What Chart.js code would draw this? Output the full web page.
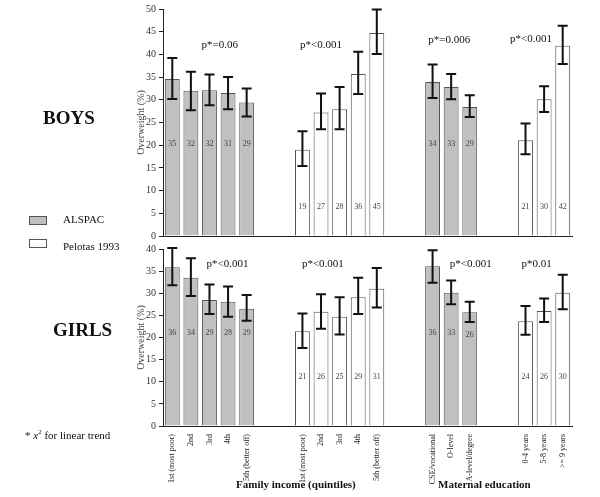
<!DOCTYPE html>
<html>
<head>
<meta charset="utf-8">
<script src="https://cdn.jsdelivr.net/npm/chart.js@4/dist/chart.umd.min.js"></script>
<style>
  body { margin: 0; width: 600px; height: 497px; background: #fff; position: relative; overflow: hidden; font-family: "Liberation Serif", serif; }
  canvas { position: absolute; left: 0; }
  .txt { position: absolute; white-space: nowrap; color: #111; }
  .box { position: absolute; width: 16px; height: 7px; border: 1px solid #555; }
</style>
</head>
<body>
<canvas id="boys" width="600" height="245" style="top:0"></canvas>
<canvas id="girls" width="600" height="257" style="top:240px"></canvas>

<div class="txt" style="left:43px;top:107px;font-size:19px;font-weight:bold">BOYS</div>
<div class="txt" style="left:53px;top:319px;font-size:19px;font-weight:bold">GIRLS</div>
<div class="box" style="left:29px;top:216px;background:#c0c0c0"></div>
<div class="txt" style="left:63px;top:213px;font-size:11px">ALSPAC</div>
<div class="box" style="left:29px;top:239px;background:#fff"></div>
<div class="txt" style="left:63px;top:240px;font-size:11px">Pelotas 1993</div>
<div class="txt" style="left:25px;top:428px;font-size:11px">* <i>x</i><sup style="font-size:7px">2</sup> for linear trend</div>
<div class="txt" style="left:236px;top:478px;font-size:11px;font-weight:bold">Family income (quintiles)</div>
<div class="txt" style="left:438px;top:478px;font-size:11px;font-weight:bold">Maternal education</div>

<script>
// category labels
const incomeLabels = ["1st (most poor)", "2nd", "3rd", "4th", "5th (better off)"];
const eduLabels = ["CSE/vocational", "O-level", "A-level/degree"];
const yearsLabels = ["0-4 years", "5-8 years", ">= 9 years"];

// boys - % overweight, lower and upper CI
const boysAlspacIncome = [34.6, 32.0, 32.1, 31.5, 29.4];
const boysAlspacIncomeLow = [30.2, 27.7, 28.8, 27.9, 26.3];
const boysAlspacIncomeHigh = [39.2, 36.2, 35.6, 35.0, 32.5];
const boysPelotasIncome = [19.0, 27.2, 27.9, 35.7, 44.7];
const boysPelotasIncomeLow = [15.4, 23.5, 23.5, 31.3, 40.1];
const boysPelotasIncomeHigh = [23.1, 31.4, 32.8, 40.6, 49.9];
const boysAlspacEdu = [33.9, 32.8, 28.4];
const boysAlspacEduLow = [30.4, 30.1, 26.2];
const boysAlspacEduHigh = [37.8, 35.7, 31.0];
const boysPelotasYears = [21.1, 30.1, 41.9];
const boysPelotasYearsLow = [18.0, 27.3, 37.9];
const boysPelotasYearsHigh = [24.8, 33.0, 46.3];
const boysBarText = [[35, 32, 32, 31, 29], [19, 27, 28, 36, 45], [34, 33, 29], [21, 30, 42]];
const boysPValues = ["p*=0.06", "p*<0.001", "p*=0.006", "p*<0.001"];

// girls
const girlsAlspacIncome = [35.9, 33.5, 28.5, 28.1, 26.5];
const girlsAlspacIncomeLow = [31.8, 29.4, 25.3, 24.7, 23.8];
const girlsAlspacIncomeHigh = [40.2, 37.9, 32.0, 31.5, 29.6];
const girlsPelotasIncome = [21.4, 25.8, 24.7, 29.1, 31.0];
const girlsPelotasIncomeLow = [17.6, 22.0, 20.7, 25.3, 26.8];
const girlsPelotasIncomeHigh = [25.4, 29.8, 29.1, 33.5, 35.7];
const girlsAlspacEdu = [36.1, 30.1, 25.7];
const girlsAlspacEduLow = [32.4, 27.5, 23.5];
const girlsAlspacEduHigh = [39.7, 32.9, 28.1];
const girlsPelotasYears = [23.7, 26.0, 30.1];
const girlsPelotasYearsLow = [20.6, 23.5, 26.4];
const girlsPelotasYearsHigh = [27.1, 28.8, 34.2];
const girlsBarText = [[36, 34, 29, 28, 29], [21, 26, 25, 29, 31], [36, 33, 26], [24, 26, 30]];
const girlsPValues = ["p*<0.001", "p*<0.001", "p*<0.001", "p*0.01"];

const none5 = [null, null, null, null, null];
const none3 = [null, null, null];

// 4 groups laid out on one category axis with 2 empty slots between groups
function slots(a, b, c, d, fill) {
  return [...a, fill, fill, ...b, fill, fill, ...c, fill, fill, ...d];
}

const axisLabels = slots(incomeLabels, incomeLabels, eduLabels, yearsLabels, "");

const errorBars = {
  id: "errorBars",
  afterDatasetsDraw(chart) {
    const ctx = chart.ctx;
    const y = chart.scales.y;
    ctx.save();
    ctx.strokeStyle = "#111";
    ctx.lineWidth = 2;
    chart.data.datasets.forEach((ds, di) => {
      const meta = chart.getDatasetMeta(di);
      ds.data.forEach((v, i) => {
        if (v == null) return;
        const x = meta.data[i].x;
        const lo = y.getPixelForValue(ds.low[i]);
        const hi = y.getPixelForValue(ds.high[i]);
        ctx.beginPath();
        ctx.moveTo(x, lo); ctx.lineTo(x, hi);
        ctx.moveTo(x - 5, lo); ctx.lineTo(x + 5, lo);
        ctx.moveTo(x - 5, hi); ctx.lineTo(x + 5, hi);
        ctx.stroke();
      });
    });
    ctx.restore();
  }
};

const barNotes = {
  id: "barNotes",
  afterDatasetsDraw(chart, args, opts) {
    const ctx = chart.ctx;
    const xs = chart.scales.x, ys = chart.scales.y;
    ctx.save();
    ctx.font = "8px 'Liberation Serif'";
    ctx.fillStyle = "#444";
    ctx.textAlign = "center";
    ctx.textBaseline = "middle";
    opts.counts.forEach((v, i) => {
      if (v == null) return;
      ctx.fillText(v, xs.getPixelForValue(i), ys.getPixelForValue(opts.countY[i]));
    });
    ctx.font = "11px 'Liberation Serif'";
    ctx.fillStyle = "#111";
    const w = (xs.right - xs.left) / axisLabels.length;
    opts.pText.forEach((t, i) => {
      const p = opts.pPos[i];
      ctx.fillText(t, xs.left + (p[0] + 0.5) * w, ys.getPixelForValue(p[1]));
    });
    ctx.restore();
  }
};

function makeChart(id, alspac, pelotas, yMax, showLabels, notes, pad) {
  return new Chart(document.getElementById(id), {
    type: "bar",
    data: {
      labels: axisLabels,
      datasets: [
        { label: "ALSPAC", data: alspac.v, low: alspac.lo, high: alspac.hi,
          backgroundColor: "#c0c0c0", borderColor: "#555", borderWidth: 1 },
        { label: "Pelotas 1993", data: pelotas.v, low: pelotas.lo, high: pelotas.hi,
          backgroundColor: "#fff", borderColor: "#555", borderWidth: 1 }
      ]
    },
    options: {
      responsive: false,
      animation: false,
      layout: { padding: pad },
      datasets: { bar: { grouped: false, barPercentage: 0.8, categoryPercentage: 1 } },
      plugins: { legend: { display: false }, tooltip: { enabled: false }, barNotes: notes },
      scales: {
        x: {
          grid: { display: false },
          border: { display: true, color: "#222", width: 1 },
          ticks: {
            display: showLabels, autoSkip: false, minRotation: 90, maxRotation: 90, padding: 0,
            font: { family: "Liberation Serif", size: 8 }, color: "#222"
          },
          afterFit: (s) => { s.height = showLabels ? 71 : 0; }
        },
        y: {
          min: 0, max: yMax,
          grid: { display: true, drawOnChartArea: false, drawTicks: true, tickLength: 4, color: "#222" },
          border: { display: true, color: "#222", width: 1 },
          ticks: { stepSize: 5, padding: 3, font: { family: "Liberation Serif", size: 10 }, color: "#333" },
          title: { display: true, text: "Overweight (%)", padding: { top: 5, bottom: 0 },
            font: { family: "Liberation Serif", size: 10 }, color: "#444" },
          afterFit: (s) => { s.width = 33; }
        }
      }
    },
    plugins: [errorBars, barNotes]
  });
}

makeChart("boys",
  { v: slots(boysAlspacIncome, none5, boysAlspacEdu, none3, null),
    lo: slots(boysAlspacIncomeLow, none5, boysAlspacEduLow, none3, null),
    hi: slots(boysAlspacIncomeHigh, none5, boysAlspacEduHigh, none3, null) },
  { v: slots(none5, boysPelotasIncome, none3, boysPelotasYears, null),
    lo: slots(none5, boysPelotasIncomeLow, none3, boysPelotasYearsLow, null),
    hi: slots(none5, boysPelotasIncomeHigh, none3, boysPelotasYearsHigh, null) },
  50, false,
  { counts: slots(...boysBarText, null),
    countY: slots([20.3, 20.3, 20.3, 20.3, 20.3], [6.3, 6.3, 6.3, 6.3, 6.3], [20.3, 20.3, 20.3], [6.3, 6.3, 6.3], null),
    pText: boysPValues,
    pPos: [[2.55, 42.1], [8.0, 42.1], [14.9, 43.1], [19.3, 43.4]] },
  { left: 130, right: 28, top: 1, bottom: 4 });

makeChart("girls",
  { v: slots(girlsAlspacIncome, none5, girlsAlspacEdu, none3, null),
    lo: slots(girlsAlspacIncomeLow, none5, girlsAlspacEduLow, none3, null),
    hi: slots(girlsAlspacIncomeHigh, none5, girlsAlspacEduHigh, none3, null) },
  { v: slots(none5, girlsPelotasIncome, none3, girlsPelotasYears, null),
    lo: slots(none5, girlsPelotasIncomeLow, none3, girlsPelotasYearsLow, null),
    hi: slots(none5, girlsPelotasIncomeHigh, none3, girlsPelotasYearsHigh, null) },
  40, true,
  { counts: slots(...girlsBarText, null),
    countY: slots([21, 21, 21, 21, 21], [11, 11, 11, 11, 11], [21, 21, 20.6], [11, 11, 11], null),
    pText: girlsPValues,
    pPos: [[2.97, 36.5], [8.1, 36.5], [16.05, 36.5], [19.6, 36.5]] },
  { left: 130, right: 28, top: 6, bottom: 0 });
</script>
</body>
</html>
